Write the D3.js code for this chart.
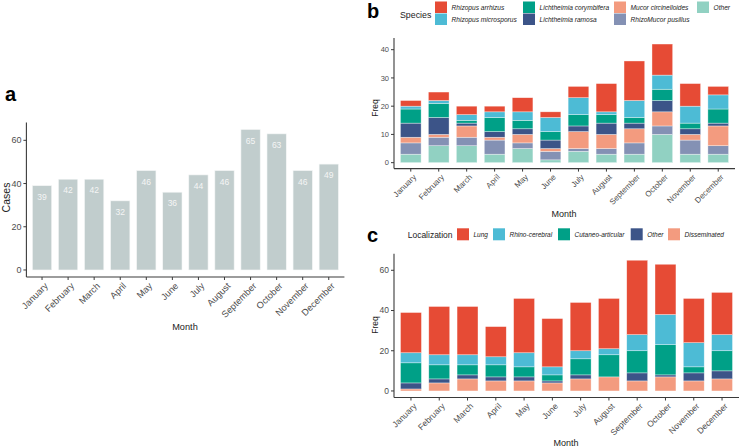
<!DOCTYPE html>
<html><head><meta charset="utf-8">
<script src="https://cdn.jsdelivr.net/npm/d3@7"></script>
<style>body{margin:0;background:#fff}svg{display:block;font-family:"Liberation Sans",Arial,sans-serif}</style>
</head><body><svg id="c" width="740" height="448"></svg>
<script>
const months = ["January","February","March","April","May","June","July","August","September","October","November","December"];
const cases = [39,42,42,32,46,36,44,46,65,63,46,49];

const species = ["Rhizopus arrhizus","Rhizopus microsporus","Lichtheimia corymbifera","Lichtheimia ramosa","Mucor circinelloides","RhizoMucor pusillus","Other"];
const speciesColors = ["#E64B35","#4DBBD5","#00A087","#3C5488","#F39B7F","#8491B4","#91D1C2"];
const rArrhizus    = [2,3,3,2,5,2,4,10,14,11,8,3];
const rMicrosporus = [1,1,2,2,3,5,6,1,6,5,6,5];
const lCorymbifera = [5,5,1,5,3,3,4,3,2,4,2,5];
const lRamosa      = [5,6,1,2,2,3,2,4,2,4,2,1];
const mCircinell   = [2,1,4,1,3,1,6,5,5,5,2,7];
const rPusillus    = [4,3,3,5,2,3,1,2,4,3,5,3];
const spOther      = [3,6,6,3,5,1,4,3,3,10,3,3];

const localizations = ["Lung","Rhino-cerebral","Cutaneo-articular","Other","Disseminated"];
const locColors = ["#E64B35","#4DBBD5","#00A087","#3C5488","#F39B7F"];
const lung   = [20,24,24,15,27,24,24,25,37,25,22,21];
const rhino  = [5,5,5,4,7,4,4,3,8,15,12,8];
const cutan  = [10,7,5,6,5,3,8,11,11,15,3,10];
const locOther = [3,2,2,2,2,1,2,0,4,1,4,4];
const dissem = [1,4,6,5,5,4,6,7,5,7,5,6];

const ticksA = [0,20,40,60], ticksB = [0,10,20,30,40], ticksC = [0,20,40,60];

const svg = d3.select("#c");
const axisCol = "#3a3a3a";
const tickTxt = "#4d4d4d";

function drawAxesPoint(g, xs, xr, y, ticks, fs, xfs){
  const yr = y.range();
  g.append("line").attr("x1",xr[0]).attr("x2",xr[0]).attr("y1",yr[0]).attr("y2",yr[1]).attr("stroke",axisCol).attr("stroke-width",1.1);
  g.append("line").attr("x1",xr[0]).attr("x2",xr[1]).attr("y1",yr[0]).attr("y2",yr[0]).attr("stroke",axisCol).attr("stroke-width",1.1);
  ticks.forEach(t=>{
    g.append("line").attr("x1",xr[0]-3).attr("x2",xr[0]).attr("y1",y(t)).attr("y2",y(t)).attr("stroke",axisCol);
    g.append("text").attr("x",xr[0]-5).attr("y",y(t)).attr("dy","0.35em").attr("text-anchor","end").attr("font-size",fs).attr("fill",tickTxt).text(t);
  });
  months.forEach(m=>{
    const cx = xs(m);
    g.append("line").attr("x1",cx).attr("x2",cx).attr("y1",yr[0]).attr("y2",yr[0]+3).attr("stroke",axisCol);
    g.append("text").attr("transform",`translate(${cx+2},${yr[0]+5}) rotate(-45)`).attr("text-anchor","end").attr("dy","0.7em")
      .attr("font-size",xfs).attr("fill",tickTxt).text(m);
  });
}

// ---------- Panel a ----------
{
  const g = svg.append("g");
  const xr = [26.4,344.4];
  const step = (xr[1]-xr[0])/12.2;
  const xs = d3.scalePoint().domain(months).range([xr[0]+0.6*step, xr[0]+11.6*step]);
  const y = d3.scaleLinear().domain([-3.25,68.25]).range([277,122.5]);
  const bw = step*0.74;
  g.selectAll("rect").data(cases).join("rect")
    .attr("x",(d,i)=>xs(months[i])-bw/2).attr("width",bw)
    .attr("y",d=>y(d)).attr("height",d=>y(0)-y(d)).attr("fill","#C1CDCD").attr("stroke","#f4f6f6").attr("stroke-width",0.6);
  g.selectAll("text.lab").data(cases).join("text").attr("class","lab")
    .attr("x",(d,i)=>xs(months[i])).attr("y",d=>y(d)+14).attr("text-anchor","middle").attr("font-size",8.5).attr("fill","#f5f5f5").text(d=>d);
  drawAxesPoint(g, xs, xr, y, ticksA, 9, 9.2);
  g.append("text").attr("x",185).attr("y",330).attr("text-anchor","middle").attr("font-size",9.2).attr("fill","#222").text("Month");
  g.append("text").attr("transform","translate(9.5,197.5) rotate(-90)").attr("text-anchor","middle").attr("font-size",10.5).attr("fill","#222").text("Cases");
  g.append("text").attr("x",5).attr("y",101).attr("font-size",20).attr("font-weight","bold").attr("fill","#000").text("a");
}

function stackedPanel(opts){
  const {xr, yDomain, yRange, ticks, series, names, colors, fs, xfs} = opts;
  const g = svg.append("g");
  const step = (xr[1]-xr[0])/12.2;
  const xs = d3.scalePoint().domain(months).range([xr[0]+0.6*step, xr[0]+11.6*step]);
  const y = d3.scaleLinear().domain(yDomain).range(yRange);
  const bw = step*0.74;
  const rows = months.map((m,i)=>{ const o={month:m}; names.forEach((n,k)=>o[n]=series[k][i]); return o; });
  const stack = d3.stack().keys(names.slice().reverse())(rows);
  const col = d3.scaleOrdinal().domain(names).range(colors);
  stack.forEach(layer=>{
    g.selectAll(null).data(layer).join("rect")
      .attr("x",d=>xs(d.data.month)-bw/2).attr("width",bw)
      .attr("y",d=>y(d[1])).attr("height",d=>Math.max(0,y(d[0])-y(d[1])))
      .attr("fill",col(layer.key)).attr("stroke","#ffffff").attr("stroke-opacity",0.6).attr("stroke-width",0.6);
  });
  drawAxesPoint(g, xs, xr, y, ticks, fs, xfs);
  return g;
}

// ---------- Panel b ----------
{
  const g = stackedPanel({xr:[394,735], yDomain:[-2.1,44.1], yRange:[168.6,38.1], ticks:ticksB,
    series:[rArrhizus,rMicrosporus,lCorymbifera,lRamosa,mCircinell,rPusillus,spOther], names:species, colors:speciesColors, fs:7.5, xfs:8});
  g.append("text").attr("x",564).attr("y",217).attr("text-anchor","middle").attr("font-size",9).attr("fill","#222").text("Month");
  g.append("text").attr("transform","translate(378,108) rotate(-90)").attr("text-anchor","middle").attr("font-size",8.5).attr("fill","#222").text("Freq");
  g.append("text").attr("x",367).attr("y",18.3).attr("font-size",20).attr("font-weight","bold").attr("fill","#000").text("b");
  g.append("text").attr("x",400).attr("y",18).attr("font-size",8.8).attr("fill","#222").text("Species");
  const colX = [435,523,614,697];
  species.forEach((s,i)=>{
    const c = Math.floor(i/2), r = i%2;
    const ky = r===0 ? 1.5 : 13.5;
    g.append("rect").attr("x",colX[c]).attr("y",ky).attr("width",12).attr("height",11.5).attr("fill",speciesColors[i]);
    g.append("text").attr("x",colX[c]+16.5).attr("y",ky+5.75).attr("dy","0.35em").attr("font-size",6.6).attr("font-style","italic").attr("fill","#222").text(s);
  });
}

// ---------- Panel c ----------
{
  const g = stackedPanel({xr:[394,739], yDomain:[-3.25,68.25], yRange:[397.5,253.7], ticks:ticksC,
    series:[lung,rhino,cutan,locOther,dissem], names:localizations, colors:locColors, fs:8.5, xfs:8.5});
  g.append("text").attr("x",566).attr("y",446).attr("text-anchor","middle").attr("font-size",9).attr("fill","#222").text("Month");
  g.append("text").attr("transform","translate(378,325) rotate(-90)").attr("text-anchor","middle").attr("font-size",8.5).attr("fill","#222").text("Freq");
  g.append("text").attr("x",367).attr("y",241.7).attr("font-size",20).attr("font-weight","bold").attr("fill","#000").text("c");
  g.append("text").attr("x",407.7).attr("y",238).attr("font-size",8.5).attr("fill","#222").text("Localization");
  const keyX = [457,493,558,630.7,668];
  localizations.forEach((s,i)=>{
    g.append("rect").attr("x",keyX[i]).attr("y",228.3).attr("width",12).attr("height",12).attr("fill",locColors[i]);
    g.append("text").attr("x",keyX[i]+16.5).attr("y",234.3).attr("dy","0.35em").attr("font-size",6.5).attr("font-style","italic").attr("fill","#222").text(s);
  });
}
</script></body></html>
